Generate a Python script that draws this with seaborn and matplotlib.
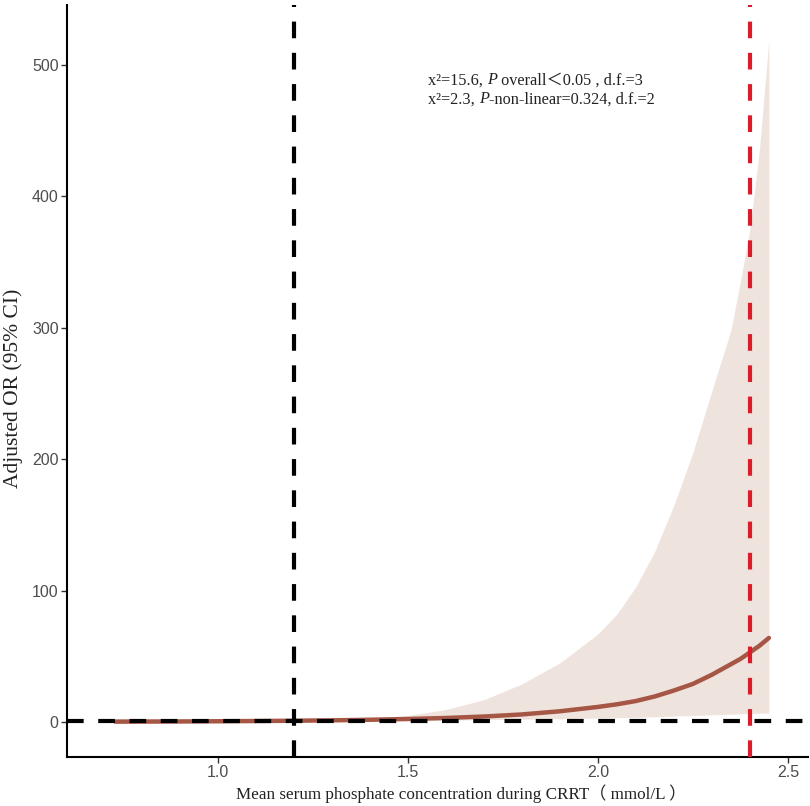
import matplotlib
matplotlib.use("Agg")
import matplotlib.pyplot as plt
import seaborn as sns
import pandas as pd

# ---- data ----
phosphate = [0.73, 0.9, 1.0, 1.1, 1.2, 1.3, 1.4, 1.5, 1.6, 1.7, 1.8, 1.9, 2.0,
             2.05, 2.1, 2.15, 2.2, 2.25, 2.3, 2.35, 2.375, 2.4, 2.425, 2.45]
or_fit = [0.3, 0.45, 0.6, 0.78, 1.0, 1.3, 1.75, 2.3, 3.1, 4.2, 5.8, 8.2, 11.5,
          13.5, 16, 19.5, 24, 29, 36, 44, 48, 53, 58, 64]
ci_upper = [2.5, 2.0, 1.6, 1.3, 1.0, 1.8, 3.0, 5.0, 9.5, 17, 29, 45, 67,
            82, 103, 130, 165, 205, 252, 298, 335, 375, 435, 519]
ci_lower = [0.05, 0.15, 0.3, 0.6, 1.0, 1.02, 1.1, 1.25, 1.5, 1.8, 2.2, 2.6, 3.0,
            3.3, 3.6, 4.0, 4.5, 5.0, 5.5, 6.0, 6.3, 6.5, 6.7, 7.0]
ref_x = 1.2
cut_x = 2.4
ref_or = 1
x_ticks = [1.0, 1.5, 2.0, 2.5]
y_ticks = [0, 100, 200, 300, 400, 500]

df = pd.DataFrame({"x": phosphate, "or": or_fit, "lo": ci_lower, "hi": ci_upper})

sns.set_theme(style="white")
plt.rcParams["font.family"] = ["Liberation Serif", "Noto Sans CJK SC"]
SERIF = ["Liberation Serif", "Noto Sans CJK SC"]

fig = plt.figure(figsize=(8.1, 8.06), dpi=100)
ax = fig.add_axes([67 / 810, 1 - 757 / 806, 741 / 810, 752 / 806])

ax.fill_between(df["x"], df["lo"], df["hi"], color="#EFE3DD", lw=0, zorder=1)
sns.lineplot(data=df, x="x", y="or", ax=ax, color="#A65644", lw=3.2, zorder=3)

dash = (0, (4, 3.5))
ax.axhline(ref_or, color="black", lw=3, ls=dash, zorder=4)
ax.axvline(ref_x, color="black", lw=3, ls=dash, zorder=4)
ax.axvline(cut_x, color="#DD1C2B", lw=3, ls=dash, zorder=5)

ax.set_xlim(0.603, 2.553)
ax.set_ylim(-26.6, 545.7)
ax.set_xticks(x_ticks)
ax.set_xticklabels([f"{v:.1f}" for v in x_ticks])
ax.set_yticks(y_ticks)
ax.set_yticklabels([str(v) for v in y_ticks])

for lab in ax.get_xticklabels() + ax.get_yticklabels():
    lab.set_fontfamily(["Liberation Sans"])
    lab.set_fontsize(11.5)
    lab.set_color("#4D4D4D")
ax.tick_params(axis="both", length=4, width=1, color="#333333", direction="out",
               bottom=True, left=True, pad=2)

for s in ["top", "right"]:
    ax.spines[s].set_visible(False)
for s in ["left", "bottom"]:
    ax.spines[s].set_color("black")
    ax.spines[s].set_linewidth(1.5)

ax.set_xlabel("Mean serum phosphate concentration during CRRT（ mmol/L ）",
              fontsize=12.3, family=SERIF, color="#222222")
ax.xaxis.set_label_coords(0.532, -0.037)
ax.set_ylabel("Adjusted OR (95% CI)", fontsize=15.5, family=SERIF, color="#222222")
ax.yaxis.set_label_coords(-0.059, 0.49)


def chain(pieces, x, y):
    prev = None
    for txt, kw in pieces:
        base = dict(fontsize=11.7, family=SERIF, color="#222222",
                    ha="left", va="bottom")
        base.update(kw)
        if prev is None:
            prev = ax.text(x, y, txt, transform=ax.transAxes, **base)
        else:
            prev = ax.annotate(txt, xy=(1, 0), xycoords=prev, **base)


chain([("x²=15.6, ", {}), ("P", {"style": "italic"}),
       (" overall＜0.05 , d.f.=3", {})], 0.487, 0.889)
chain([("x²=2.3, ", {}), ("P", {"style": "italic"}),
       ("-non-linear=0.324, d.f.=2", {})], 0.487, 0.864)

fig.savefig("out.png", dpi=100)
